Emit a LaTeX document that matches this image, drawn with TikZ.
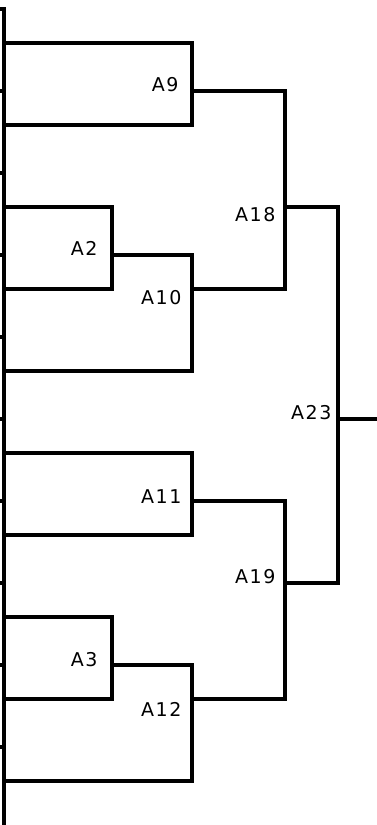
\documentclass[tikz,border=0pt]{standalone}
\usepackage{fontspec}
\setmainfont{DejaVu Sans}[LetterSpace=8]
\begin{document}
\begin{tikzpicture}[x=1pt,y=-1pt, line width=3.2pt, line join=miter,
  lbl/.style={anchor=east, inner sep=0pt, font=\fontsize{19}{20}\selectfont},
  tree/.style={draw=black}]
\useasboundingbox (0,0) rectangle (377,825);
% axis
\coordinate (ax0) at (0,9);
\coordinate (axT) at (4,9);
\coordinate (axB) at (4,825);
\draw[tree] (ax0) -- (axT) -- (axB);
\foreach \j in {1,...,9} {
  \coordinate (tl\j) at (0,{9+82*\j});
  \coordinate (tr\j) at (4,{9+82*\j});
  \draw[tree] (tl\j) -- (tr\j);
}
% labels
\node[lbl] (A9)  at (180,85)  {A9};
\node[lbl] (A2)  at (99,248)  {A2};
\node[lbl] (A10) at (183,298) {A10};
\node[lbl] (A18) at (277,215) {A18};
\node[lbl] (A23) at (333,413) {A23};
\node[lbl] (A11) at (183,497) {A11};
\node[lbl] (A19) at (277,577) {A19};
\node[lbl] (A3)  at (99,660)  {A3};
\node[lbl] (A12) at (183,709) {A12};
% junction coordinates
\coordinate (j9)  at (192,91);
\coordinate (j2)  at (112,255);
\coordinate (j10) at (192,289);
\coordinate (j18) at (285,207);
\coordinate (j23) at (338,419);
\coordinate (j11) at (192,501);
\coordinate (j19) at (285,583);
\coordinate (j3)  at (112,665);
\coordinate (j12) at (192,699);
\coordinate (out) at (377,419);
% A9
\draw[tree] (4,43) -- (192,43) -- (192,125) -- (4,125);
% A2
\draw[tree] (4,207) -- (112,207) -- (112,289) -- (4,289);
% A10
\draw[tree] (j2) -- (192,255) -- (192,371) -- (4,371);
% A18
\draw[tree] (j9) -- (285,91) -- (285,289) -- (j10);
% A11
\draw[tree] (4,453) -- (192,453) -- (192,535) -- (4,535);
% A3
\draw[tree] (4,617) -- (112,617) -- (112,699) -- (4,699);
% A12
\draw[tree] (j3) -- (192,665) -- (192,781) -- (4,781);
% A19
\draw[tree] (j11) -- (285,501) -- (285,699) -- (j12);
% A23
\draw[tree] (j18) -- (338,207) -- (338,583) -- (j19);
\draw[tree] (j23) -- (out);
\end{tikzpicture}
\end{document}
